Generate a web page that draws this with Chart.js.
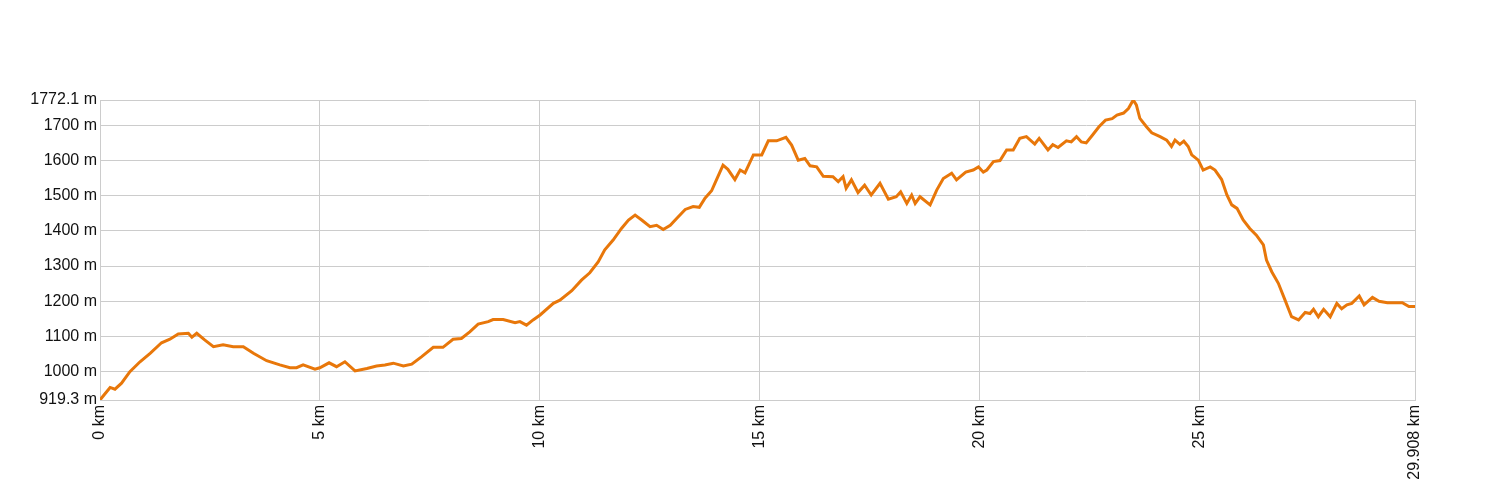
<!DOCTYPE html>
<html>
<head>
<meta charset="utf-8">
<script src="https://cdn.jsdelivr.net/npm/chart.js@4/dist/chart.umd.min.js"></script>
<style>
  html, body { margin: 0; padding: 0; background: #fff; }
  #wrap { width: 1500px; height: 500px; }
</style>
</head>
<body>
<div id="wrap"><canvas id="c" width="1500" height="500"></canvas></div>
<script>
const distanceKm = [0.00,0.10,0.23,0.34,0.49,0.68,0.91,1.14,1.40,1.59,1.78,2.01,2.09,2.20,2.38,2.58,2.80,3.03,3.26,3.49,3.79,4.09,4.32,4.47,4.62,4.89,5.00,5.21,5.38,5.57,5.80,6.07,6.29,6.48,6.67,6.90,7.09,7.31,7.58,7.80,8.03,8.22,8.41,8.60,8.83,8.94,9.17,9.44,9.55,9.70,9.85,10.01,10.31,10.46,10.73,10.95,11.14,11.33,11.48,11.67,11.86,12.02,12.17,12.32,12.51,12.66,12.81,12.97,13.12,13.31,13.49,13.63,13.76,13.91,14.02,14.17,14.28,14.44,14.56,14.67,14.86,15.05,15.20,15.39,15.60,15.73,15.88,16.03,16.15,16.30,16.45,16.67,16.79,16.90,16.97,17.09,17.24,17.39,17.54,17.74,17.93,18.11,18.21,18.35,18.46,18.54,18.65,18.88,19.03,19.18,19.37,19.48,19.69,19.86,19.98,20.09,20.17,20.32,20.47,20.62,20.77,20.92,21.07,21.26,21.36,21.56,21.67,21.79,21.98,22.09,22.21,22.32,22.43,22.57,22.72,22.87,23.02,23.13,23.28,23.39,23.50,23.57,23.65,23.80,23.92,24.11,24.26,24.37,24.45,24.56,24.65,24.75,24.83,24.98,25.09,25.25,25.36,25.51,25.63,25.74,25.86,26.00,26.15,26.30,26.46,26.53,26.65,26.80,26.95,27.10,27.26,27.41,27.52,27.60,27.71,27.83,27.98,28.13,28.24,28.36,28.47,28.64,28.75,28.94,29.09,29.28,29.62,29.77,29.908];
const elevationM = [919.3,935,955,950,967,1000,1028,1052,1082,1092,1107,1109,1098,1109,1090,1071,1076,1071,1071,1052,1031,1019,1011,1011,1019,1007,1011,1025,1014,1028,1002,1009,1016,1019,1024,1016,1021,1042,1069,1069,1092,1094,1113,1135,1142,1148,1148,1139,1142,1132,1147,1161,1194,1203,1230,1260,1281,1312,1346,1374,1407,1431,1445,1431,1412,1416,1404,1416,1436,1461,1469,1467,1493,1514,1545,1587,1575,1546,1573,1565,1616,1616,1656,1656,1666,1644,1601,1606,1585,1582,1555,1554,1540,1554,1521,1545,1509,1530,1502,1535,1490,1497,1511,1478,1502,1478,1497,1474,1516,1549,1564,1545,1567,1573,1582,1567,1573,1597,1600,1630,1630,1663,1668,1647,1663,1630,1645,1637,1656,1653,1668,1653,1650,1672,1696,1715,1719,1729,1735,1748,1772.1,1758,1720,1696,1679,1668,1658,1640,1658,1646,1655,1640,1616,1601,1573,1582,1573,1546,1502,1474,1464,1431,1407,1388,1360,1317,1284,1251,1204,1156,1147,1168,1165,1177,1156,1177,1156,1194,1179,1190,1194,1215,1190,1211,1200,1196,1196,1185,1185];
const yTickValues = [919.3,1000,1100,1200,1300,1400,1500,1600,1700,1772.1];
const xTickValues = [0,5,10,15,20,25,29.908];
const yMin = 919.3, yMax = 1772.1;
const xMin = 0, xMax = 29.908;

const points = distanceKm.map((d, i) => ({ x: d, y: elevationM[i] }));
const font = { family: '"Liberation Sans", Arial, sans-serif', size: 16 };

new Chart(document.getElementById('c'), {
  type: 'line',
  data: {
    datasets: [{
      data: points,
      borderColor: 'rgb(232,119,10)',
      borderWidth: 3,
      pointRadius: 0,
      tension: 0,
      fill: false
    }]
  },
  options: {
    responsive: false,
    animation: false,
    layout: { padding: { top: 100, right: 85, left: 0, bottom: 0 } },
    plugins: { legend: { display: false }, tooltip: { enabled: false } },
    scales: {
      x: {
        type: 'linear',
        min: xMin, max: xMax,
        afterBuildTicks: s => { s.ticks = xTickValues.map(v => ({ value: v })); },
        afterFit: s => { s.height = 100; },
        grid: { color: '#cccccc', drawTicks: false },
        border: { color: '#cccccc' },
        ticks: {
          autoSkip: false, minRotation: 90, maxRotation: 90, padding: 5,
          color: '#111', font: font,
          callback: v => v + ' km'
        }
      },
      y: {
        type: 'linear',
        min: yMin, max: yMax,
        afterBuildTicks: s => { s.ticks = yTickValues.map(v => ({ value: v })); },
        afterFit: s => { s.width = 100; },
        grid: { color: '#cccccc', drawTicks: false },
        border: { color: '#cccccc' },
        ticks: {
          autoSkip: false, padding: 3, color: '#111', font: font,
          callback: v => v + ' m'
        }
      }
    }
  }
});
</script>
</body>
</html>
